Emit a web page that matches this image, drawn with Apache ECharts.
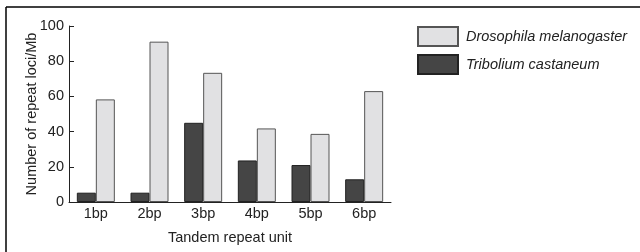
<!DOCTYPE html>
<html>
<head>
<meta charset="utf-8">
<script src="https://cdn.jsdelivr.net/npm/echarts@6/dist/echarts.min.js"></script>
<style>
  html, body { margin: 0; padding: 0; background: #fff; }
  #chart { width: 640px; height: 252px; }
</style>
</head>
<body>
<div id="chart"></div>
<script>
const categories = ['1bp', '2bp', '3bp', '4bp', '5bp', '6bp']
const tribolium = [5.3, 5.3, 45, 23.6, 21, 12.9]
const drosophila = [58.3, 91.1, 73.4, 41.8, 38.7, 63]
const yTicks = { min: 0, max: 100, interval: 20 }

const chart = echarts.init(document.getElementById('chart'))
const font = 'Liberation Sans, Arial, sans-serif'

const option = {
  animation: false,
  backgroundColor: '#fff',
  grid: { left: 69, right: 249, top: 26, bottom: 50 },
  graphic: [
    { type: 'line', shape: { x1: 6, y1: 7, x2: 640, y2: 7 }, style: { stroke: '#000', lineWidth: 1.5 } },
    { type: 'line', shape: { x1: 6, y1: 7, x2: 6, y2: 252 }, style: { stroke: '#000', lineWidth: 1.5 } }
  ],
  legend: {
    orient: 'vertical',
    left: 417,
    top: 26,
    padding: 0,
    itemWidth: 40,
    itemHeight: 19,
    itemGap: 7,
    icon: 'rect',
    data: ['Drosophila melanogaster', 'Tribolium castaneum'],
    textStyle: { fontFamily: font, fontSize: 14.5, fontStyle: 'italic', color: '#222', padding: [0, 0, 0, 3] }
  },
  xAxis: {
    type: 'category',
    data: categories,
    name: 'Tandem repeat unit',
    nameLocation: 'middle',
    nameGap: 28,
    nameMoveOverlap: false,
    nameTextStyle: { fontFamily: font, fontSize: 14.5, color: '#222' },
    axisLine: { lineStyle: { color: '#222', width: 1 } },
    axisTick: { inside: true, length: 4, lineStyle: { color: '#222' } },
    axisLabel: { fontFamily: font, fontSize: 14.5, color: '#222', margin: 4 }
  },
  yAxis: {
    type: 'value',
    min: yTicks.min,
    max: yTicks.max,
    interval: yTicks.interval,
    name: 'Number of repeat loci/Mb',
    nameLocation: 'middle',
    nameGap: 30,
    nameMoveOverlap: false,
    nameTextStyle: { fontFamily: font, fontSize: 14.5, color: '#222' },
    axisLine: { show: true, lineStyle: { color: '#222', width: 1 } },
    axisTick: { show: true, inside: true, length: 5, lineStyle: { color: '#222' } },
    axisLabel: { fontFamily: font, fontSize: 14.5, color: '#222', margin: 5 },
    splitLine: { show: false }
  },
  series: [
    {
      name: 'Tribolium castaneum',
      type: 'bar',
      data: tribolium,
      barWidth: 19,
      barGap: '0%',
      itemStyle: { color: '#454545', borderColor: '#222', borderWidth: 1 }
    },
    {
      name: 'Drosophila melanogaster',
      type: 'bar',
      data: drosophila,
      barWidth: 19,
      barGap: '0%',
      itemStyle: { color: '#e1e1e3', borderColor: '#555', borderWidth: 1 }
    }
  ]
}

chart.setOption(option)
</script>
</body>
</html>
